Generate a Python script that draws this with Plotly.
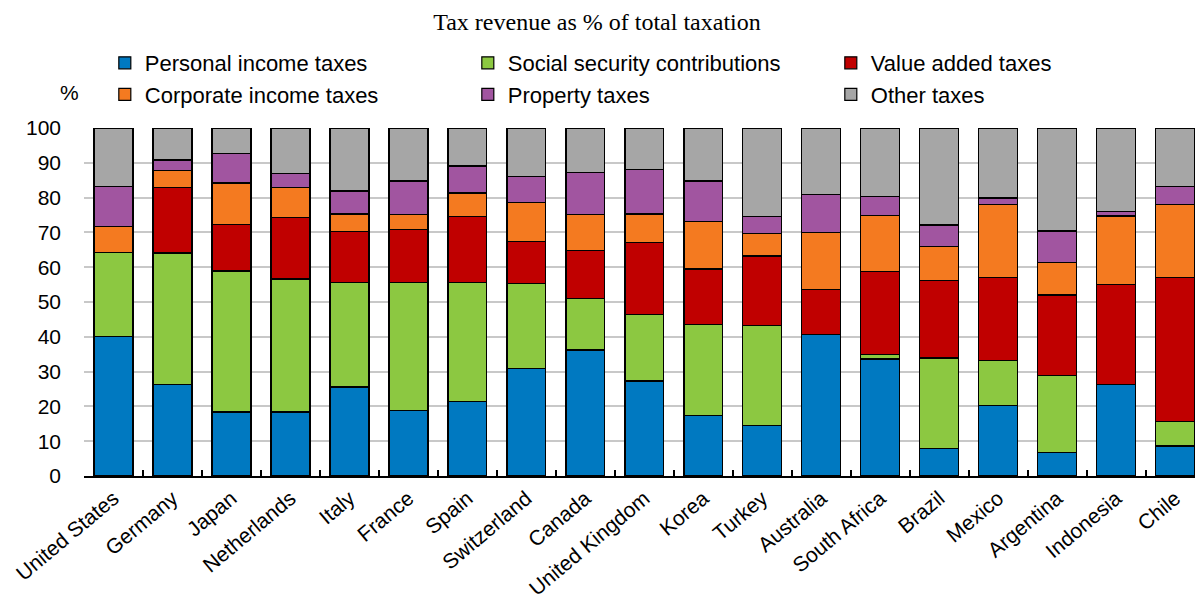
import plotly.graph_objects as go

countries = ["United States", "Germany", "Japan", "Netherlands", "Italy", "France",
             "Spain", "Switzerland", "Canada", "United Kingdom", "Korea", "Turkey",
             "Australia", "South Africa", "Brazil", "Mexico", "Argentina", "Indonesia", "Chile"]

personal = [40.2, 26.4, 18.4, 18.4, 25.6, 18.8, 21.3, 31.0, 36.2, 27.3, 17.4, 14.5,
            40.7, 33.6, 7.9, 20.3, 6.8, 26.2, 8.6]
social = [24.1, 37.7, 40.5, 38.2, 30.1, 36.7, 34.3, 24.3, 14.9, 19.1, 26.2, 28.8,
          0.0, 1.4, 26.0, 13.0, 22.0, 0.0, 7.1]
vat = [0.0, 18.7, 13.4, 17.6, 14.5, 15.3, 19.0, 12.2, 13.6, 20.6, 15.9, 19.9,
       12.8, 23.7, 22.2, 23.7, 23.2, 28.8, 41.3]
corporate = [7.5, 5.1, 11.9, 8.8, 5.1, 4.4, 6.7, 11.2, 10.4, 8.3, 13.7, 6.5,
             16.5, 16.2, 9.8, 21.0, 9.3, 19.7, 21.0]
property_ = [11.3, 2.9, 8.4, 4.0, 6.6, 9.6, 7.8, 7.3, 12.1, 12.7, 11.6, 4.8,
             10.8, 5.5, 6.2, 1.9, 9.1, 1.4, 5.1]
other = [16.9, 9.2, 7.4, 13.0, 18.1, 15.2, 10.9, 14.0, 12.8, 12.0, 15.2, 25.5,
         19.2, 19.6, 27.9, 20.1, 29.6, 23.9, 16.9]

series = [
    ("Personal income taxes", personal, "#0079C1"),
    ("Social security contributions", social, "#8CC841"),
    ("Value added taxes", vat, "#C00000"),
    ("Corporate income taxes", corporate, "#F47A20"),
    ("Property taxes", property_, "#A155A0"),
    ("Other taxes", other, "#A6A6A6"),
]

fig = go.Figure()
for name, vals, col in series:
    fig.add_trace(go.Bar(
        x=countries, y=vals, name=name,
        marker=dict(color=col, line=dict(color="#000000", width=1.2)),
    ))

fig.update_layout(
    barmode="stack",
    bargap=0.34,
    width=1203, height=603,
    margin=dict(l=76, r=8, t=120, b=135, autoexpand=False),
    paper_bgcolor="white", plot_bgcolor="white",
    font=dict(family="Liberation Sans, Arial, sans-serif", size=21, color="#000000"),
    title=dict(text="Tax revenue as % of total taxation",
               font=dict(family="Liberation Serif, Times New Roman, serif", size=24),
               x=0.4896, xanchor="center", xref="container",
               y=0.978, yanchor="middle", yref="container"),
    legend=dict(orientation="h", x=0.0186, xanchor="left", y=1.247, yanchor="top",
                entrywidth=318, entrywidthmode="pixels",
                font=dict(size=22), itemclick=False, traceorder="normal",
                tracegroupgap=0, bgcolor="rgba(0,0,0,0)"),
    showlegend=True,
)
fig.update_xaxes(
    type="category", range=[-0.5, 18.47], automargin=False,
    tickangle=-40, showline=True, linecolor="#000000", linewidth=2,
    ticks="inside", tickson="boundaries", ticklen=6, tickwidth=2, tickcolor="#000000",
    showgrid=False, tickfont=dict(size=21),
)
fig.update_yaxes(
    range=[0, 100], dtick=10, showgrid=True, gridcolor="#C8C8C8", gridwidth=2,
    zeroline=False, showline=False, ticks="", ticklabelstandoff=22, automargin=False,
    tickfont=dict(size=21),
)
fig.add_annotation(text="%", xref="paper", yref="paper", x=-0.003, y=1.103,
                   xanchor="right", yanchor="middle", showarrow=False,
                   font=dict(size=21))

fig.write_html("out.html")
